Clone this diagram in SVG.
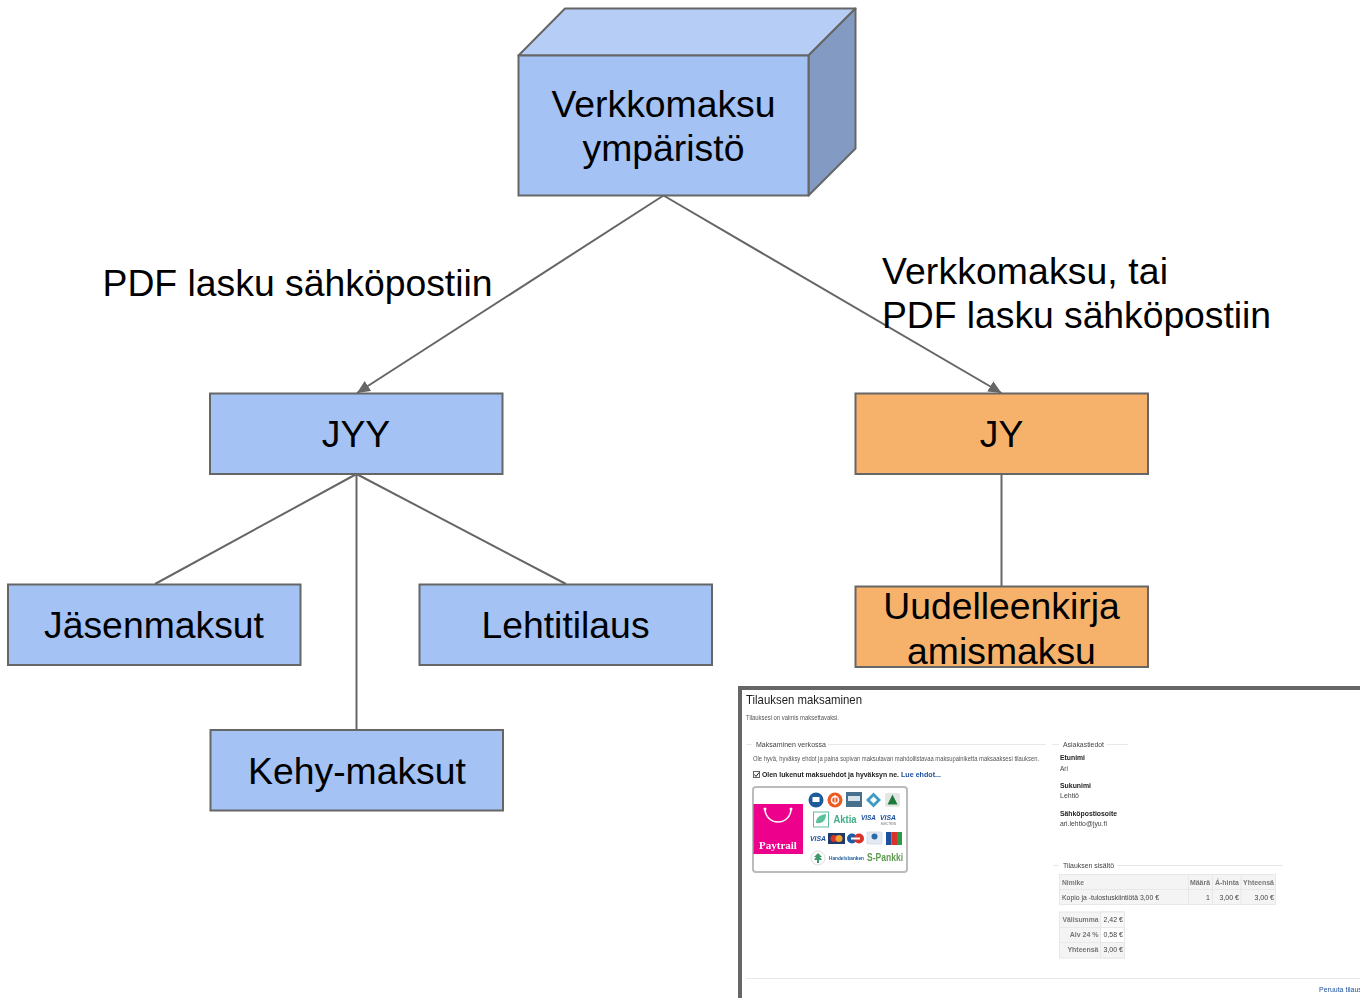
<svg xmlns="http://www.w3.org/2000/svg" width="1360" height="998" viewBox="0 0 1360 998">
<style>
text{font-family:"Liberation Sans",Arial,sans-serif;fill:#000}
.b{fill:#a4c2f4;stroke:#666;stroke-width:2}
.o{fill:#f6b26b;stroke:#666;stroke-width:2}
.n{font-size:37.33px;text-anchor:middle}
.c{fill:none;stroke:#666;stroke-width:2}
.s{fill:#555}
.d{fill:#444}
.h{fill:#777;font-weight:bold}
.l{stroke:#e8e8e8;stroke-width:1;fill:none}
.t{fill:#f4f4f4;stroke:#e8e8e8;stroke-width:1}
.bold{fill:#222;font-weight:bold}
.link{fill:#1c4f9c}
</style>
<defs>
<marker id="a" markerUnits="userSpaceOnUse" markerWidth="16" markerHeight="14" refX="13" refY="6" orient="auto"><path d="M0 0L13 6L0 12Z" fill="#666"/></marker>
<filter id="blur" x="-2%" y="-2%" width="104%" height="104%"><feGaussianBlur stdDeviation="0.45"/></filter>
</defs>
<rect width="1360" height="998" fill="#fff"/>
<g id="connectors">
<path class="c" d="M663.500 195.500L357 393" marker-end="url(#a)"/>
<path class="c" d="M663.500 195.500L1001.500 393" marker-end="url(#a)"/>
<path class="c" d="M356.500 474L155 584"/>
<path class="c" d="M356.500 474V730"/>
<path class="c" d="M356.500 474L566 584"/>
<path class="c" d="M1001.500 474V586"/>
</g>
<g id="node-verkkomaksu">
<path d="M518.500 55.500L565 8.500H855.500L808.500 55.500Z" fill="#b6cef6" stroke="#666" stroke-width="2" stroke-linejoin="round"/>
<path d="M808.500 55.500L855.500 8.500V148.500L808.500 195.500Z" fill="#839bc3" stroke="#666" stroke-width="2" stroke-linejoin="round"/>
<rect class="b" x="518.500" y="55.500" width="290" height="140"/>
<text class="n" x="663.500" y="117">Verkkomaksu</text>
<text class="n" x="663.500" y="161">ympäristö</text>
</g>
<g id="label-left"><text x="102.500" y="296" font-size="37.330">PDF lasku sähköpostiin</text></g>
<g id="label-right"><text x="882" y="284" font-size="37.330" textLength="286">Verkkomaksu, tai</text><text x="882" y="328" font-size="37.330" textLength="389">PDF lasku sähköpostiin</text></g>
<g id="node-jyy"><rect class="b" x="210" y="393.500" width="292.500" height="80.500"/><text class="n" x="356" y="447">JYY</text></g>
<g id="node-jy"><rect class="o" x="855.500" y="393.500" width="292.500" height="80.500"/><text class="n" x="1001.500" y="447">JY</text></g>
<g id="node-jasenmaksut"><rect class="b" x="8" y="584.500" width="292.500" height="80.500"/><text class="n" x="154" y="638">Jäsenmaksut</text></g>
<g id="node-lehtitilaus"><rect class="b" x="419.500" y="584.500" width="292.500" height="80.500"/><text class="n" x="565.500" y="638">Lehtitilaus</text></g>
<g id="node-kehy"><rect class="b" x="210.500" y="730" width="292.500" height="80.500"/><text class="n" x="357" y="784">Kehy-maksut</text></g>
<g id="node-uudelleen"><rect class="o" x="855.500" y="586.500" width="292.500" height="80.500"/><text class="n" x="1001.500" y="619">Uudelleenkirja</text><text class="n" x="1001.500" y="664">amismaksu</text></g>
<g id="screenshot">
<rect x="740" y="688" width="622" height="312" fill="#fff" stroke="#666" stroke-width="4"/>
<g filter="url(#blur)">
<text x="746" y="704" font-size="13" fill="#222" style="fill:#222" textLength="116" lengthAdjust="spacingAndGlyphs">Tilauksen maksaminen</text>
<text class="s" x="746" y="719.500" font-size="6.500" textLength="93" lengthAdjust="spacingAndGlyphs">Tilauksesi on valmis maksettavaksi.</text>
<path class="l" d="M746 744.500H752M828 744.500H1046M1052 744.500H1059M1107 744.500H1128M1053 865.500H1059M1117 865.500H1283M746 978.500H1360"/>
<text class="d" x="756" y="746.500" font-size="7.500" textLength="70" lengthAdjust="spacingAndGlyphs">Maksaminen verkossa</text>
<text class="s" x="753" y="760.500" font-size="6.500" textLength="286" lengthAdjust="spacingAndGlyphs">Ole hyvä, hyväksy ehdot ja paina sopivan maksutavan mahdollistavaa maksupainiketta maksaaksesi tilauksen.</text>
<rect x="753.500" y="771.500" width="6" height="6" fill="#fff" stroke="#666"/>
<path d="M754.500 774.500l1.500 2 3-4" fill="none" stroke="#222"/>
<text class="bold" x="762" y="777" font-size="7" textLength="137" lengthAdjust="spacingAndGlyphs">Olen lukenut maksuehdot ja hyväksyn ne.</text>
<text class="link" x="901" y="777" font-size="7" font-weight="bold" textLength="40" lengthAdjust="spacingAndGlyphs">Lue ehdot...</text>
<g id="paytrail-card">
<rect x="753" y="787" width="154" height="85" rx="3" fill="#fff" stroke="#bbb" stroke-width="2"/>
<rect x="753.500" y="804" width="49.500" height="50" fill="#ec008c"/>
<path d="M765 809a13 13 0 0 0 26 0" fill="none" stroke="#fff" stroke-width="1.500"/>
<circle cx="765" cy="809" r="1.500" fill="#fff"/><circle cx="791" cy="809" r="1.500" fill="#fff"/>
<text x="778" y="849" font-size="11" text-anchor="middle" style="font-family:'Liberation Serif',serif;fill:#fff;font-weight:bold">Paytrail</text>
<circle cx="816" cy="800" r="7.500" fill="#1d5c9a"/><rect x="812.500" y="797" width="7" height="5" fill="#fff"/>
<circle cx="835" cy="800" r="7.500" fill="#ec5a24"/><circle cx="835" cy="800" r="3.500" fill="none" stroke="#fff" stroke-width="1.500"/><path d="M835 795v10" stroke="#fff"/>
<rect x="846" y="792" width="16" height="15" fill="#46708f"/><rect x="848" y="796" width="12" height="5" fill="#d8e2ea"/>
<path d="M873.500 792.500l7.500 7.500-7.500 7.500-7.500-7.500Z" fill="#3f9bc4"/><path d="M873.500 796.500l3.500 3.500-3.500 3.500-3.500-3.500Z" fill="#fff"/>
<rect x="885" y="793" width="15" height="14" rx="2" fill="#e4e8e4"/><path d="M892.500 794.500l5 10h-10Z" fill="#1d7a3d"/>
<rect x="813.500" y="812" width="15" height="15" fill="#fff" stroke="#5cc09a"/><path d="M816 823c0-6 4-8 10-9 0 6-3 10-10 9Z" fill="#5cc09a"/>
<text x="833.500" y="823" font-size="10" style="fill:#3fae86;font-weight:bold" textLength="23" lengthAdjust="spacingAndGlyphs">Aktia</text>
<text x="861" y="820" font-size="7" style="fill:#1d4f9c;font-weight:bold;font-style:italic" textLength="15" lengthAdjust="spacingAndGlyphs">VISA</text>
<text x="880" y="820" font-size="7" style="fill:#1d4f9c;font-weight:bold;font-style:italic" textLength="16" lengthAdjust="spacingAndGlyphs">VISA</text>
<text x="881" y="825" font-size="3.500" style="fill:#666" textLength="15" lengthAdjust="spacingAndGlyphs">ELECTRON</text>
<text x="810" y="841" font-size="7" style="fill:#1d4f9c;font-weight:bold;font-style:italic" textLength="16" lengthAdjust="spacingAndGlyphs">VISA</text>
<rect x="828" y="833" width="17" height="11" fill="#1a3a6a"/><circle cx="834" cy="838.500" r="3.500" fill="#d9332a"/><circle cx="839" cy="838.500" r="3.500" fill="#f0a030"/>
<circle cx="852" cy="838.500" r="5" fill="#1d5ca8"/><circle cx="859" cy="838.500" r="5" fill="#d9332a"/><rect x="851" y="837.500" width="9" height="2" fill="#fff"/>
<rect x="867" y="832" width="15" height="12" rx="1" fill="#e4eaf2" stroke="#b6c6da" stroke-width=".5"/><circle cx="874.500" cy="836.500" r="3" fill="#2a6aa8"/>
<rect x="886" y="832" width="5.500" height="13" fill="#1d4f9c"/><rect x="891.500" y="832" width="5.500" height="13" fill="#d9332a"/><rect x="897" y="832" width="5" height="13" fill="#2a9a4a"/>
<circle cx="818" cy="858" r="7" fill="#fff" stroke="#ddd"/><path d="M818 853l4 4h-2l2 3h-3v3h-2v-3h-3l2-3h-2Z" fill="#3f9a6e"/>
<text x="829" y="860" font-size="4.500" style="fill:#1d5c9a;font-weight:bold" textLength="35" lengthAdjust="spacingAndGlyphs">Handelsbanken</text>
<text x="867" y="861" font-size="10" style="fill:#5f9a50;font-weight:bold" textLength="36" lengthAdjust="spacingAndGlyphs">S-Pankki</text>
</g>
<text class="d" x="1063" y="746.500" font-size="7.500" textLength="41" lengthAdjust="spacingAndGlyphs">Asiakastiedot</text>
<text class="bold" x="1060" y="760" font-size="7" textLength="25" lengthAdjust="spacingAndGlyphs">Etunimi</text>
<text class="d" x="1060" y="771" font-size="7" textLength="8" lengthAdjust="spacingAndGlyphs">Ari</text>
<text class="bold" x="1060" y="788" font-size="7" textLength="31" lengthAdjust="spacingAndGlyphs">Sukunimi</text>
<text class="d" x="1060" y="798" font-size="7" textLength="19" lengthAdjust="spacingAndGlyphs">Lehtiö</text>
<text class="bold" x="1060" y="816" font-size="7" textLength="57" lengthAdjust="spacingAndGlyphs">Sähköpostiosoite</text>
<text class="d" x="1060" y="826" font-size="7" textLength="47" lengthAdjust="spacingAndGlyphs">ari.lehtio@jyu.fi</text>
<text class="d" x="1063" y="868" font-size="7.500" textLength="51" lengthAdjust="spacingAndGlyphs">Tilauksen sisältö</text>
<rect class="t" x="1059.500" y="874.500" width="216" height="15"/>
<rect class="t" x="1059.500" y="889.500" width="216" height="15"/>
<path class="l" d="M1188.500 874.500V904.500M1212.500 874.500V904.500M1241 874.500V904.500"/>
<text class="h" x="1062" y="884.500" font-size="7" textLength="22" lengthAdjust="spacingAndGlyphs">Nimike</text>
<text class="h" x="1190" y="884.500" font-size="7" textLength="20" lengthAdjust="spacingAndGlyphs">Määrä</text>
<text class="h" x="1215" y="884.500" font-size="7" textLength="24" lengthAdjust="spacingAndGlyphs">Á-hinta</text>
<text class="h" x="1243" y="884.500" font-size="7" textLength="31" lengthAdjust="spacingAndGlyphs">Yhteensä</text>
<text class="d" x="1062" y="899.500" font-size="7" textLength="97" lengthAdjust="spacingAndGlyphs">Kopio ja -tulostuskiintiötä 3,00 €</text>
<text class="d" x="1210" y="899.500" font-size="7" text-anchor="end">1</text>
<text class="d" x="1239" y="899.500" font-size="7" text-anchor="end">3,00 €</text>
<text class="d" x="1274" y="899.500" font-size="7" text-anchor="end">3,00 €</text>
<rect class="t" x="1059.500" y="912" width="41" height="46"/>
<rect x="1100.500" y="912" width="24" height="46" fill="#fff" stroke="#e8e8e8"/>
<rect x="1100.500" y="942.500" width="24" height="15.500" fill="#f4f4f4" stroke="#e8e8e8"/>
<rect x="1100.500" y="912" width="24" height="15.500" fill="#f8f8f8" stroke="#e8e8e8"/>
<path class="l" d="M1059.500 927.500H1124.500M1059.500 942.500H1124.500"/>
<text class="h" x="1098.500" y="921.500" font-size="7" text-anchor="end" textLength="36" lengthAdjust="spacingAndGlyphs">Välisumma</text>
<text class="h" x="1098.500" y="937" font-size="7" text-anchor="end">Alv 24 %</text>
<text class="h" x="1098.500" y="952" font-size="7" text-anchor="end">Yhteensä</text>
<text class="d" x="1123" y="921.500" font-size="7" text-anchor="end">2,42 €</text>
<text class="d" x="1123" y="937" font-size="7" text-anchor="end">0,58 €</text>
<text class="d" x="1123" y="952" font-size="7" text-anchor="end">3,00 €</text>
<text class="link" x="1319" y="992" font-size="7">Peruuta tilaus</text>
</g>
</g>
</svg>
